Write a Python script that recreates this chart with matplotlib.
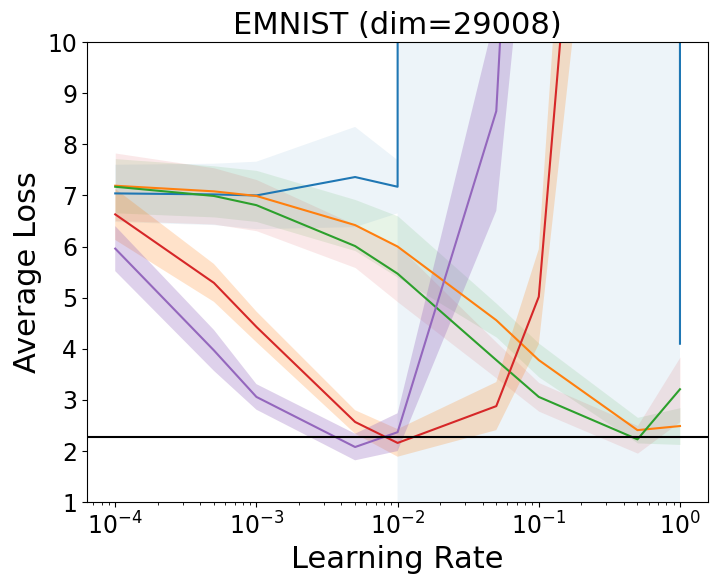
import matplotlib
matplotlib.use("Agg")
import matplotlib.pyplot as plt
import numpy as np

# learning rates swept
lrs = [1e-4, 5e-4, 1e-3, 5e-3, 1e-2, 5e-2, 1e-1, 5e-1, 1e0]

# mean / std of average loss per run (values above 10 are off the chart)
blue_mean = [7.04, 7.02, 7.00, 7.36, 7.17, 1e4, 1e4, 1e4, 4.10]
blue_std = [0.56, 0.60, 0.66, 0.98, 0.52, 1e5, 1e5, 1e5, 9.0]

orange_mean = [7.19, 7.08, 6.99, 6.42, 6.00, 4.56, 3.78, 2.41, 2.49]
orange_std = [0.53, 0.50, 0.50, 0.50, 0.60, 0.33, 0.33, 0.25, 0.36]

green_mean = [7.17, 6.99, 6.81, 6.01, 5.47, 3.78, 3.06, 2.23, 3.21]
green_std = [0.66, 0.55, 0.50, 0.42, 0.55, 0.35, 0.28, 0.27, 0.63]

red_mean = [6.63, 5.29, 4.43, 2.57, 2.16, 2.88, 5.02, 28.0, 35.0]
red_std = [0.50, 0.37, 0.30, 0.23, 0.27, 0.47, 0.93, 6.5, 8.0]

purple_mean = [5.96, 3.97, 3.06, 2.08, 2.37, 8.65, 24.0, 30.0, 35.0]
purple_std = [0.44, 0.40, 0.25, 0.26, 0.37, 1.95, 9.0, 10.0, 10.0]

baseline = 2.28

series = [
    (blue_mean, blue_std, 'tab:blue', 'tab:blue', 0.08),
    (orange_mean, orange_std, 'tab:orange', 'tab:green', 0.11),
    (green_mean, green_std, 'tab:green', 'tab:red', 0.10),
    (red_mean, red_std, 'tab:red', 'tab:orange', 0.22),
    (purple_mean, purple_std, 'tab:purple', 'tab:purple', 0.30),
]

fig = plt.figure(figsize=(7.19, 5.84), dpi=100)
ax = fig.add_axes([0.121, 0.140, 0.864, 0.788])

x = np.array(lrs)
for mean, std, lc, bc, a in series:
    mean = np.array(mean)
    std = np.array(std)
    ax.plot(x, mean, color=lc, lw=1.5)
    ax.fill_between(x, mean - std, mean + std, color=bc, alpha=a, lw=0)

ax.axhline(baseline, color='black', lw=1.5)

ax.set_xscale('log')
ax.set_ylim(1, 10)
ax.set_yticks(range(1, 11))
ax.set_title('EMNIST (dim=29008)', fontsize=22)
ax.set_xlabel('Learning Rate', fontsize=22)
ax.set_ylabel('Average Loss', fontsize=22)
ax.tick_params(axis='both', which='major', labelsize=17)

fig.savefig('out.png', dpi=100)
